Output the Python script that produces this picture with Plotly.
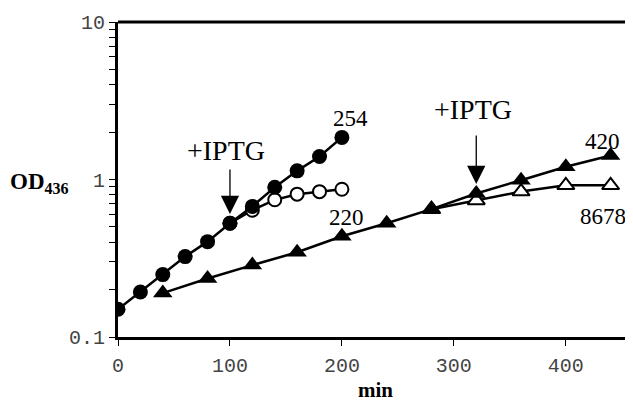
import plotly.graph_objects as go

# ---- data ----
t_254 = [0, 20, 40, 60, 80, 100, 120, 140, 160, 180, 200]
od_254 = [0.15, 0.193, 0.249, 0.324, 0.403, 0.528, 0.675, 0.893, 1.135, 1.40, 1.85]

t_220 = [100, 120, 140, 160, 180, 200]
od_220 = [0.528, 0.638, 0.743, 0.807, 0.837, 0.867]

t_420 = [40, 80, 120, 160, 200, 240, 280, 320, 360, 400, 440]
od_420 = [0.19, 0.235, 0.286, 0.345, 0.436, 0.528, 0.648, 0.815, 0.99, 1.205, 1.42]

t_8678 = [280, 320, 360, 400, 440]
od_8678 = [0.648, 0.736, 0.838, 0.918, 0.918]

x_ticks = [0, 100, 200, 300, 400]
y_major = [0.1, 1, 10]
y_labels = ["0.1", "1", "10"]

# ---- layout geometry (page body has an 8px margin) ----
OFF = 8
W, H = 633 - OFF, 406 - OFF
ML, MR, MT, MB = 118 - OFF, 0, 22 - OFF, 69
PW, PH = W - ML - MR, H - MT - MB


def px_x(p):
    return (p - OFF - ML) / PW


def px_y(p):
    return (H - MB - (p - OFF)) / PH


ytickvals = []
ytext = []
for dec in [0.1, 1]:
    for m in range(1, 10):
        v = round(dec * m, 6)
        ytickvals.append(v)
        ytext.append(y_labels[y_major.index(v)] if v in y_major else "")
ytickvals.append(10)
ytext.append("10")

fig = go.Figure()

line_w = 2.5
fig.add_trace(go.Scatter(x=t_220, y=od_220, mode="lines+markers",
                         line=dict(color="black", width=line_w),
                         marker=dict(symbol="circle", size=13, color="white",
                                     line=dict(color="black", width=2)),
                         showlegend=False))
fig.add_trace(go.Scatter(x=t_254, y=od_254, mode="lines+markers",
                         line=dict(color="black", width=line_w),
                         marker=dict(symbol="circle", size=15, color="black"),
                         showlegend=False))
fig.add_trace(go.Scatter(x=t_8678, y=od_8678, mode="lines+markers",
                         line=dict(color="black", width=line_w),
                         marker=dict(symbol="triangle-up", size=15, color="white",
                                     line=dict(color="black", width=2)),
                         showlegend=False))
fig.add_trace(go.Scatter(x=t_420, y=od_420, mode="lines+markers",
                         line=dict(color="black", width=line_w),
                         marker=dict(symbol="triangle-up", size=17, color="black"),
                         showlegend=False))

serif = "Liberation Serif"
mono = "Liberation Mono"

ann = []
# curve labels
for txt, px, py in [("254", 350, 118), ("220", 346, 217), ("420", 602, 141), ("8678", 603, 216)]:
    ann.append(dict(text=txt, xref="paper", yref="paper", x=px_x(px), y=px_y(py),
                    xanchor="center", yanchor="middle", showarrow=False,
                    font=dict(family=serif, size=23, color="black")))
# +IPTG labels
for px, py in [(226, 150), (473, 109)]:
    ann.append(dict(text="+IPTG", xref="paper", yref="paper", x=px_x(px), y=px_y(py),
                    xanchor="center", yanchor="middle", showarrow=False,
                    font=dict(family=serif, size=28, color="black")))
# arrows
for x_tip, y_tip_px, tail_len in [(100, 214, 46), (320, 184, 50)]:
    ann.append(dict(text="", x=x_tip, xref="x", y=px_y(y_tip_px), yref="paper",
                    showarrow=True, ax=0, ay=-tail_len, arrowhead=2, arrowsize=2.8,
                    arrowwidth=1.3, arrowcolor="black", standoff=0))
# y-axis title
ann.append(dict(text="<b>OD<sub>436</sub></b>", xref="paper", yref="paper",
                x=px_x(8), y=px_y(183), xanchor="left", yanchor="middle",
                showarrow=False, font=dict(family=serif, size=23, color="black")))

fig.update_layout(
    width=W, height=H,
    margin=dict(l=ML, r=MR, t=MT, b=MB, pad=0),
    paper_bgcolor="white", plot_bgcolor="white",
    annotations=ann,
    shapes=[dict(type="line", xref="paper", yref="paper", x0=0, x1=1, y0=1, y1=1,
                 line=dict(color="black", width=3))],
    xaxis=dict(range=[0, 460], tickvals=x_ticks, ticks="outside", ticklen=6,
               tickwidth=1, tickcolor="black", showgrid=False, zeroline=False,
               showline=True, linecolor="black", linewidth=3,
               tickfont=dict(family=mono, size=20, color="#444"),
               ticklabelstandoff=2,
               title=dict(text="<b>min</b>", font=dict(family=serif, size=21, color="black"),
                          standoff=4)),
    yaxis=dict(type="log", range=[-1, 1], tickvals=ytickvals, ticktext=ytext,
               ticks="outside", ticklen=6, tickwidth=1, tickcolor="black",
               showgrid=False, zeroline=False, showline=True, linecolor="black",
               linewidth=3, tickfont=dict(family=mono, size=20, color="#444")),
)

fig.write_html("out.html")
